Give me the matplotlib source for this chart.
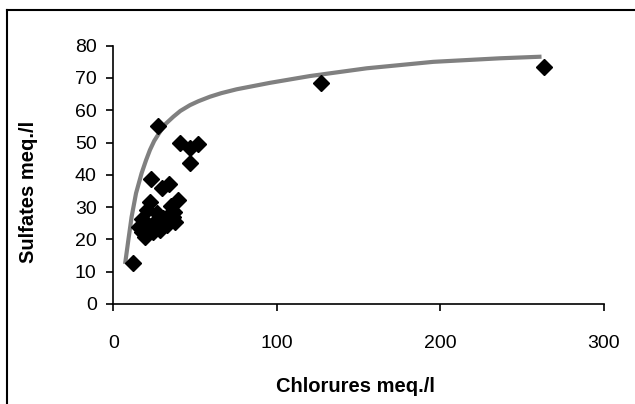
import matplotlib
matplotlib.use('Agg')
import matplotlib.pyplot as plt
from matplotlib.lines import Line2D

plt.rcParams['font.family'] = ['Liberation Sans', 'DejaVu Sans']

# points mesures (chlorures, sulfates)
chlorures = [12.2, 27.5, 40.8, 46.9, 52.0, 46.9, 23.0, 29.6, 34.0, 22.4,
             39.3, 35.3, 20.4, 26.5, 37.3, 17.7, 36.7, 37.7, 15.9, 21.4,
             28.5, 19.4, 24.0, 32.6, 17.3, 25.5, 30.5, 34.5, 126.8, 263.5]
sulfates = [12.6, 55.1, 49.8, 48.2, 49.5, 43.6, 38.6, 35.8, 37.2, 31.7,
            32.2, 30.3, 29.1, 28.1, 28.6, 26.2, 27.0, 25.5, 23.9, 24.5,
            22.9, 20.8, 22.4, 24.5, 22.4, 25.5, 26.5, 27.8, 68.5, 73.5]

# courbe de tendance
courbe_x = [7.2, 9.2, 11.2, 13.9, 17.3, 20.0, 22.4, 25.0, 28.5, 32.0, 36.7,
            41.0, 46.9, 52.0, 59.1, 66.0, 75.4, 95.8, 120.2, 154.9, 195.6,
            236.4, 261.8]
courbe_y = [12.4, 19.8, 27.0, 34.3, 40.5, 44.5, 47.7, 50.5, 53.3, 55.8, 58.0,
            59.8, 61.6, 62.8, 64.2, 65.3, 66.5, 68.5, 70.6, 73.0, 75.0,
            76.1, 76.6]

fig = plt.figure(figsize=(6.35, 4.04), dpi=100)
ax = fig.add_axes([113.3/635, 1-304/404, (604-113.3)/635, (304-45.7)/404])

ax.plot(courbe_x, courbe_y, color='#808080', lw=3, solid_capstyle='butt',
        solid_joinstyle='round', zorder=2)
ax.plot(chlorures, sulfates, 'D', color='black', ms=8, zorder=3)

ax.set_xlim(0, 300)
ax.set_ylim(0, 80)
ax.set_xticks([0, 100, 200, 300])
ax.set_yticks(range(0, 81, 10))
ax.spines['top'].set_visible(False)
ax.spines['right'].set_visible(False)
for s in ['left', 'bottom']:
    ax.spines[s].set_linewidth(1.2)
ax.tick_params(axis='y', direction='out', length=5, width=1.2, pad=7, labelsize=14)
ax.tick_params(axis='x', direction='out', length=5, width=1.2, pad=17, labelsize=14)

fig.text(28/635, 1-192/404, 'Sulfates meq./l', rotation=90, ha='center', va='center',
         fontsize=14.5, fontweight='bold')
fig.text(355/635, 1-387/404, 'Chlorures meq./l', ha='center', va='center',
         fontsize=14.5, fontweight='bold')

# cadre (gauche et haut)
fig.add_artist(Line2D([7/635, 7/635], [0, 1-10/404], transform=fig.transFigure, color='black', lw=1.5))
fig.add_artist(Line2D([7/635, 1], [1-10/404, 1-10/404], transform=fig.transFigure, color='black', lw=1.5))

fig.savefig('out.png', dpi=100)
